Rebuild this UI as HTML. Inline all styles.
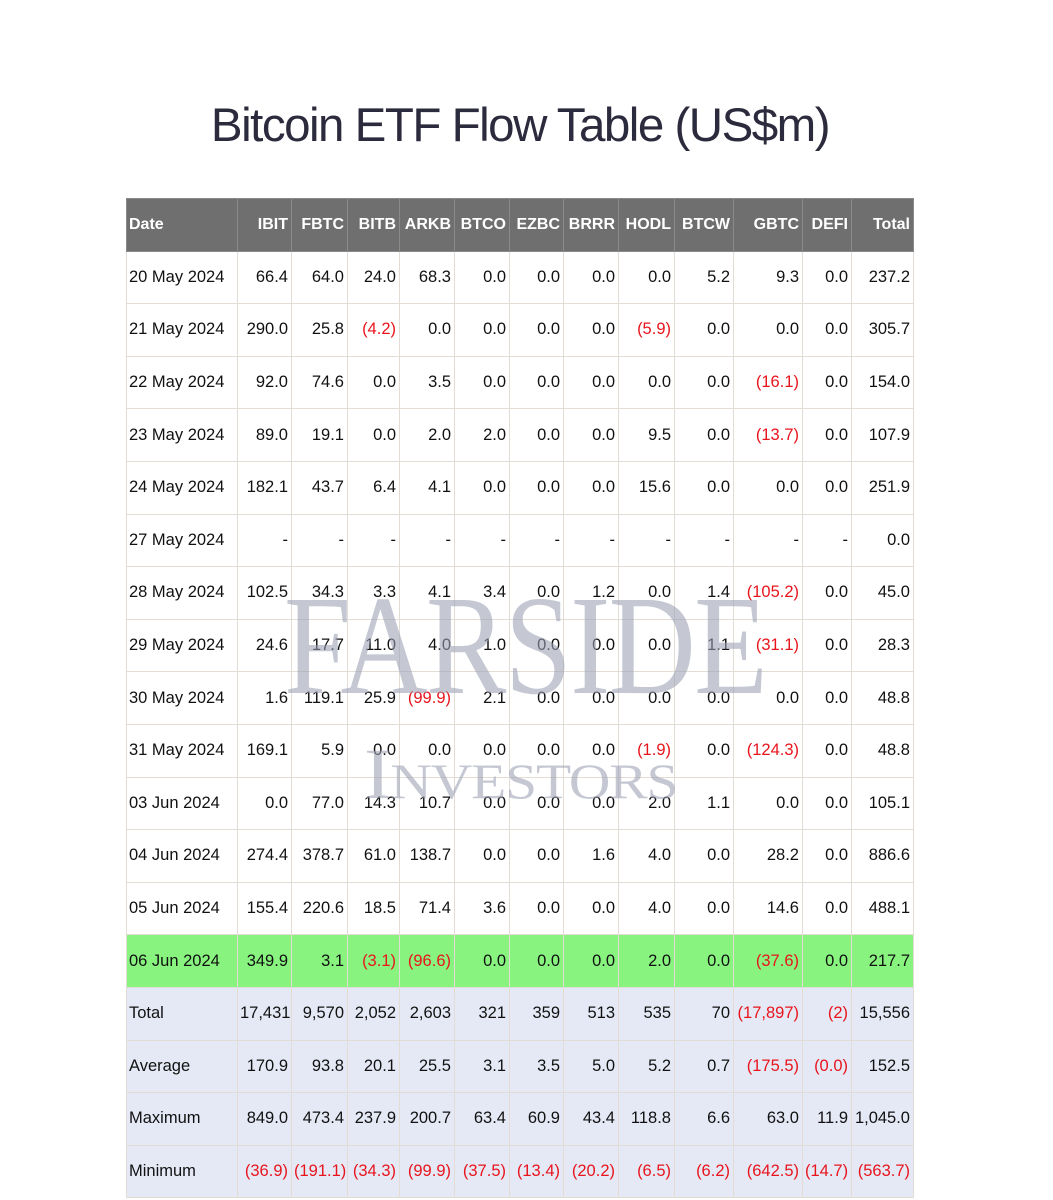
<!DOCTYPE html>
<html><head><meta charset="utf-8">
<style>
html,body{margin:0;padding:0;background:#fff;width:1053px;height:1200px;overflow:hidden;position:relative;font-family:"Liberation Sans",sans-serif;}
#title{position:absolute;left:0;width:1040px;top:98px;text-align:center;font-size:47.5px;color:#2b2b3d;letter-spacing:-1.5px;font-weight:normal;}
table{position:absolute;left:126px;top:198px;border-collapse:collapse;table-layout:fixed;width:787px;}
td,th{border:1px solid #e2dcd4;height:51.6px;padding:0 3px 0 2px;font-size:16.5px;color:#111;text-align:right;white-space:nowrap;overflow:hidden;}
th{background:#6f6f6f;color:#fff;font-weight:bold;border-color:#8a8a8a;font-size:16px;}
td:first-child,th:first-child{text-align:left;}
.neg{color:#e8141c;}
tr.hl td{background:#88f47f;}
tr.sum td{background:#e5e9f6;}
#wm{position:absolute;left:0;top:0;width:1053px;height:1200px;pointer-events:none;font-family:"Liberation Serif",serif;color:rgba(155,160,180,0.58);}
#wm1{position:absolute;left:284px;top:574px;font-size:142px;letter-spacing:-2px;line-height:1;transform:scaleX(0.85);transform-origin:0 0;}
#wm2{position:absolute;left:364px;top:738px;font-size:72px;font-variant:small-caps;line-height:1;letter-spacing:-1px;transform:scaleX(1.15);transform-origin:0 0;}
</style></head>
<body>
<div id="title">Bitcoin ETF Flow Table (US$m)</div>
<table id="tbl">
<colgroup><col style="width:111px"><col style="width:54px"><col style="width:56px"><col style="width:52px"><col style="width:55px"><col style="width:55px"><col style="width:54px"><col style="width:55px"><col style="width:56px"><col style="width:59px"><col style="width:69px"><col style="width:49px"><col style="width:62px"></colgroup>
<tbody id="tb"></tbody>
</table>
<div id="wm"><div id="wm1">FARSIDE</div><div id="wm2">Investors</div></div>
<script>
const headers=["Date","IBIT","FBTC","BITB","ARKB","BTCO","EZBC","BRRR","HODL","BTCW","GBTC","DEFI","Total"];
const dates=["20 May 2024","21 May 2024","22 May 2024","23 May 2024","24 May 2024","27 May 2024","28 May 2024","29 May 2024","30 May 2024","31 May 2024","03 Jun 2024","04 Jun 2024","05 Jun 2024","06 Jun 2024"];
const r0=["66.4","64.0","24.0","68.3","0.0","0.0","0.0","0.0","5.2","9.3","0.0","237.2"];
const r1=["290.0","25.8","(4.2)","0.0","0.0","0.0","0.0","(5.9)","0.0","0.0","0.0","305.7"];
const r2=["92.0","74.6","0.0","3.5","0.0","0.0","0.0","0.0","0.0","(16.1)","0.0","154.0"];
const r3=["89.0","19.1","0.0","2.0","2.0","0.0","0.0","9.5","0.0","(13.7)","0.0","107.9"];
const r4=["182.1","43.7","6.4","4.1","0.0","0.0","0.0","15.6","0.0","0.0","0.0","251.9"];
const r5=["-","-","-","-","-","-","-","-","-","-","-","0.0"];
const r6=["102.5","34.3","3.3","4.1","3.4","0.0","1.2","0.0","1.4","(105.2)","0.0","45.0"];
const r7=["24.6","17.7","11.0","4.0","1.0","0.0","0.0","0.0","1.1","(31.1)","0.0","28.3"];
const r8=["1.6","119.1","25.9","(99.9)","2.1","0.0","0.0","0.0","0.0","0.0","0.0","48.8"];
const r9=["169.1","5.9","0.0","0.0","0.0","0.0","0.0","(1.9)","0.0","(124.3)","0.0","48.8"];
const r10=["0.0","77.0","14.3","10.7","0.0","0.0","0.0","2.0","1.1","0.0","0.0","105.1"];
const r11=["274.4","378.7","61.0","138.7","0.0","0.0","1.6","4.0","0.0","28.2","0.0","886.6"];
const r12=["155.4","220.6","18.5","71.4","3.6","0.0","0.0","4.0","0.0","14.6","0.0","488.1"];
const r13=["349.9","3.1","(3.1)","(96.6)","0.0","0.0","0.0","2.0","0.0","(37.6)","0.0","217.7"];
const totalRow=["17,431","9,570","2,052","2,603","321","359","513","535","70","(17,897)","(2)","15,556"];
const averageRow=["170.9","93.8","20.1","25.5","3.1","3.5","5.0","5.2","0.7","(175.5)","(0.0)","152.5"];
const maximumRow=["849.0","473.4","237.9","200.7","63.4","60.9","43.4","118.8","6.6","63.0","11.9","1,045.0"];
const minimumRow=["(36.9)","(191.1)","(34.3)","(99.9)","(37.5)","(13.4)","(20.2)","(6.5)","(6.2)","(642.5)","(14.7)","(563.7)"];
const dataRows=[r0,r1,r2,r3,r4,r5,r6,r7,r8,r9,r10,r11,r12,r13];
const sumLabels=["Total","Average","Maximum","Minimum"];
const sumRows=[totalRow,averageRow,maximumRow,minimumRow];

const tb=document.getElementById('tb');
const hr=document.createElement('tr');


headers.forEach(h=>{
  const th=document.createElement('th');th.textContent=h;
  
  
  hr.appendChild(th);
});
tb.appendChild(hr);
function addRow(label,vals,cls,name){
  const tr=document.createElement('tr');if(cls)tr.className=cls;
  
  
  const c0=document.createElement('td');c0.textContent=label;
  
  
  tr.appendChild(c0);
  vals.forEach((v,i)=>{
    const td=document.createElement('td');td.textContent=v;
    if(v.charAt(0)==='(')td.className='neg';
    
    
    tr.appendChild(td);
  });
  tb.appendChild(tr);
}
dataRows.forEach((r,i)=>addRow(dates[i],r,i===dataRows.length-1?'hl':'','flow-row'));
sumRows.forEach((r,i)=>addRow(sumLabels[i],r,'sum','summary-row-'+sumLabels[i].toLowerCase()));
</script>
</body></html>
